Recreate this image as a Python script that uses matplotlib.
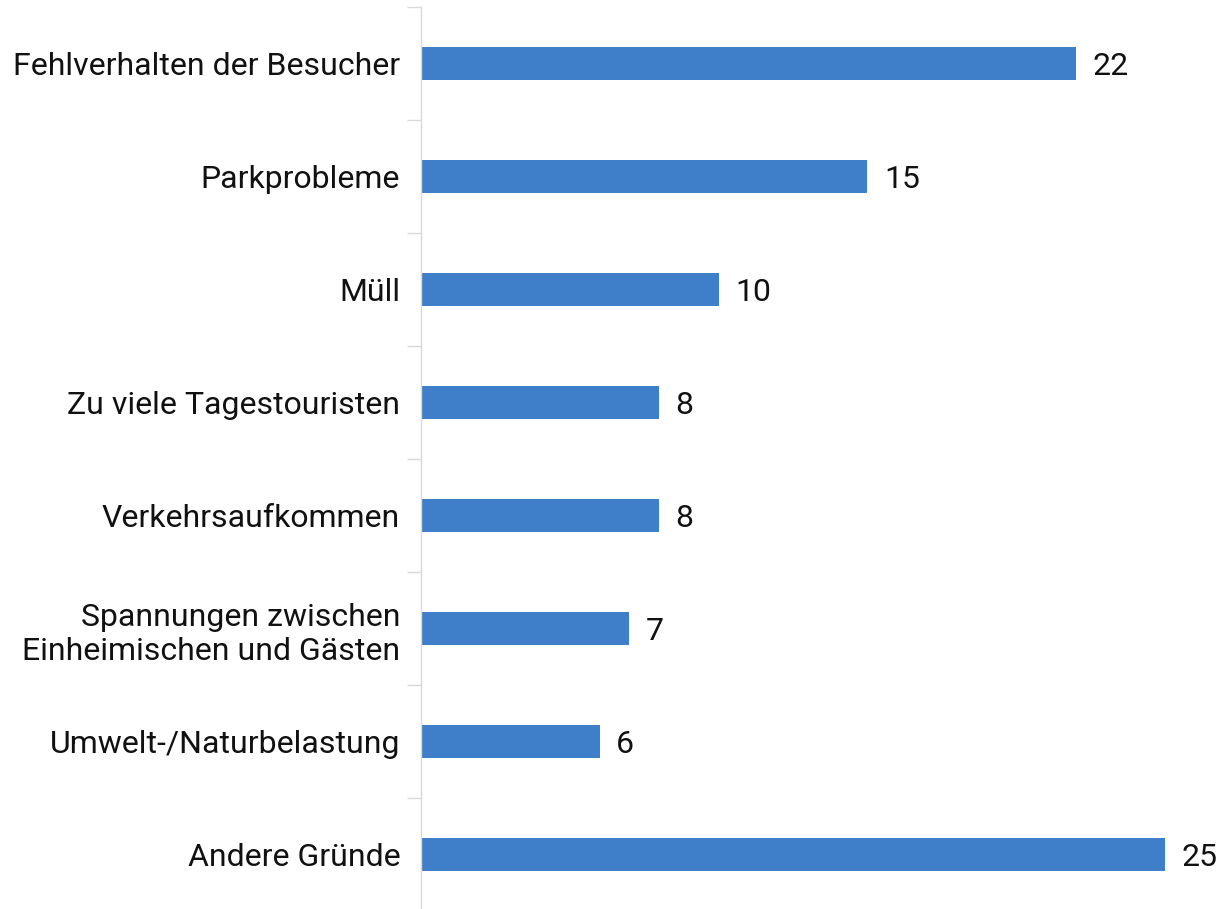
import matplotlib.pyplot as plt
import numpy as np

# Data
categories = ['Fehlverhalten der Besucher', 'Parkprobleme', 'Müll',
              'Zu viele Tagestouristen', 'Verkehrsaufkommen',
              'Spannungen zwischen\nEinheimischen und Gästen',
              'Umwelt-/Naturbelastung', 'Andere Gründe']
counts = [22, 15, 10, 8, 8, 7, 6, 25]

plt.rcParams['font.family'] = ['Roboto', 'DejaVu Sans']

fig = plt.figure(figsize=(12.19, 9.09), dpi=100)
# axes placed so the category axis sits where the reference has it
ax = fig.add_axes([421 / 1219, -2 / 909, 798 / 1219, 904 / 909])

ypos = np.arange(len(categories))
bars = ax.barh(ypos, counts, height=0.3, color='#3F7EC8')

ax.set_ylim(len(categories) - 0.5, -0.5)
ax.set_xlim(0, 798 / 29.76)

# category labels as text, ticks at the category boundaries
ax.set_yticks(np.arange(-0.5, len(categories) + 0.5, 1))
ax.set_yticklabels([])
ax.set_yticks(ypos, minor=True)
ax.set_yticklabels(categories, minor=True, fontsize=23, color='#111111',
                   ha='right', linespacing=1.25)
ax.tick_params(axis='y', which='major', length=10, width=1, color='#D9D9D9')
ax.tick_params(axis='y', which='minor', length=0, pad=15)
ax.set_xticks([])

for side in ['top', 'right', 'bottom']:
    ax.spines[side].set_visible(False)
ax.spines['left'].set_color('#D9D9D9')
ax.spines['left'].set_linewidth(1)

for b, v in zip(bars, counts):
    ax.annotate(str(v), (b.get_width(), b.get_y() + b.get_height() / 2),
                xytext=(12, 0), textcoords='offset points',
                va='center_baseline', ha='left', fontsize=23, color='#111111')

plt.savefig('out.png', dpi=100)
